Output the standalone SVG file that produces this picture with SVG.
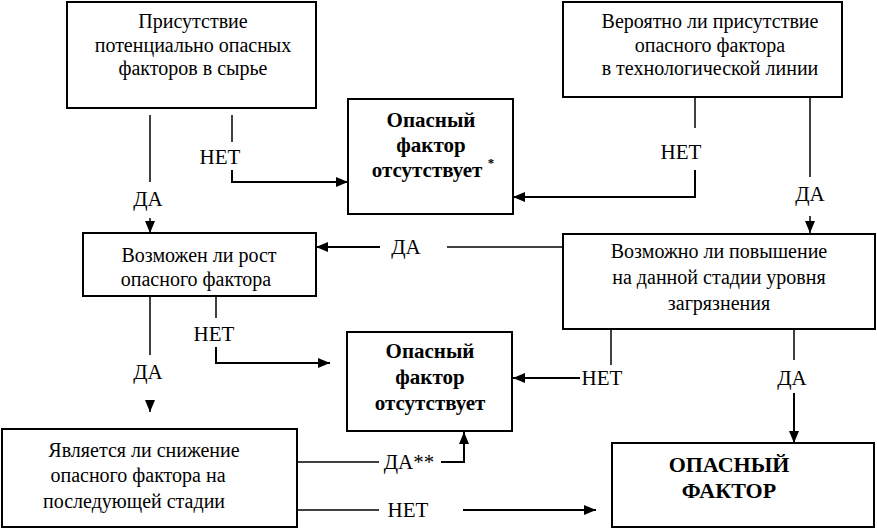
<svg xmlns="http://www.w3.org/2000/svg" width="877" height="530" viewBox="0 0 877 530">
<defs>
<marker id="ah" markerUnits="userSpaceOnUse" markerWidth="12" markerHeight="10" viewBox="0 0 12 10" refX="12" refY="5" orient="auto">
<path d="M0,0 L12,5 L0,10 Z" fill="#000"/>
</marker>
</defs>
<rect width="877" height="530" fill="#fff"/>

<g id="connectors" fill="none" stroke="#000" stroke-width="1.5">
<line x1="150" y1="115" x2="150" y2="182"/>
<line x1="150" y1="218" x2="150" y2="233" marker-end="url(#ah)"/>
<line x1="232" y1="115" x2="232" y2="142"/>
<polyline points="232,170 232,182 348,182" stroke-width="2" marker-end="url(#ah)"/>
<line x1="695" y1="98" x2="695" y2="128"/>
<polyline points="695,170 695,197 513,197" stroke-width="2" marker-end="url(#ah)"/>
<line x1="810" y1="98" x2="810" y2="177"/>
<line x1="810" y1="216" x2="810" y2="233" marker-end="url(#ah)"/>
<line x1="563" y1="247" x2="447" y2="247"/>
<line x1="380" y1="247" x2="316" y2="247" stroke-width="2" marker-end="url(#ah)"/>
<line x1="150" y1="296" x2="150" y2="355"/>
<line x1="150" y1="400" x2="150" y2="412" marker-end="url(#ah)"/>
<line x1="216" y1="296" x2="216" y2="318"/>
<polyline points="216,347 216,363 330,363" stroke-width="2" marker-end="url(#ah)"/>
<line x1="611" y1="329" x2="611" y2="365"/>
<line x1="580" y1="378" x2="513" y2="378" stroke-width="2" marker-end="url(#ah)"/>
<line x1="794" y1="329" x2="794" y2="360"/>
<line x1="794" y1="393" x2="794" y2="443" stroke-width="2" marker-end="url(#ah)"/>
<line x1="297" y1="462" x2="379" y2="462"/>
<polyline points="441,462 464,462 464,432" stroke-width="2" marker-end="url(#ah)"/>
<line x1="297" y1="510" x2="379" y2="510"/>
<line x1="463" y1="510" x2="596" y2="510" stroke-width="2" marker-end="url(#ah)"/>
<text style="font-family:'Liberation Serif',serif;font-size:21px;text-anchor:middle;fill:#000;stroke:none" x="148" y="206">ДА</text>
<text style="font-family:'Liberation Serif',serif;font-size:21px;text-anchor:middle;fill:#000;stroke:none" x="220" y="164">НЕТ</text>
<text style="font-family:'Liberation Serif',serif;font-size:21px;text-anchor:middle;fill:#000;stroke:none" x="681" y="159">НЕТ</text>
<text style="font-family:'Liberation Serif',serif;font-size:21px;text-anchor:middle;fill:#000;stroke:none" x="810" y="201">ДА</text>
<text style="font-family:'Liberation Serif',serif;font-size:21px;text-anchor:middle;fill:#000;stroke:none" x="406" y="254">ДА</text>
<text style="font-family:'Liberation Serif',serif;font-size:21px;text-anchor:middle;fill:#000;stroke:none" x="148" y="379">ДА</text>
<text style="font-family:'Liberation Serif',serif;font-size:21px;text-anchor:middle;fill:#000;stroke:none" x="214" y="341">НЕТ</text>
<text style="font-family:'Liberation Serif',serif;font-size:21px;text-anchor:middle;fill:#000;stroke:none" x="602" y="385">НЕТ</text>
<text style="font-family:'Liberation Serif',serif;font-size:21px;text-anchor:middle;fill:#000;stroke:none" x="792" y="385">ДА</text>
<text style="font-family:'Liberation Serif',serif;font-size:21px;text-anchor:middle;fill:#000;stroke:none" x="409" y="469">ДА**</text>
<text style="font-family:'Liberation Serif',serif;font-size:21px;text-anchor:middle;fill:#000;stroke:none" x="408" y="517">НЕТ</text>
</g>

<g id="node-raw">
<rect x="67" y="2" width="249" height="106" fill="#fff" stroke="#000" stroke-width="2"/>
<text style="font-family:'Liberation Serif',serif;font-size:20px;text-anchor:middle" x="193" y="28">Присутствие</text>
<text style="font-family:'Liberation Serif',serif;font-size:20px;text-anchor:middle" x="193" y="52">потенциально опасных</text>
<text style="font-family:'Liberation Serif',serif;font-size:20px;text-anchor:middle" x="193" y="75">факторов в сырье</text>
</g>

<g id="node-line">
<rect x="563" y="2" width="279" height="95" fill="#fff" stroke="#000" stroke-width="2"/>
<text style="font-family:'Liberation Serif',serif;font-size:20px;text-anchor:middle" x="710" y="28">Вероятно ли присутствие</text>
<text style="font-family:'Liberation Serif',serif;font-size:20px;text-anchor:middle" x="710" y="52">опасного фактора</text>
<text style="font-family:'Liberation Serif',serif;font-size:20px;text-anchor:middle" x="710" y="75">в технологической линии</text>
</g>

<g id="node-absent1">
<rect x="348" y="99" width="165" height="115" fill="#fff" stroke="#000" stroke-width="2"/>
<text style="font-family:'Liberation Serif',serif;font-size:21px;font-weight:bold;text-anchor:middle" x="431" y="127">Опасный</text>
<text style="font-family:'Liberation Serif',serif;font-size:21px;font-weight:bold;text-anchor:middle" x="431" y="152">фактор</text>
<text style="font-family:'Liberation Serif',serif;font-size:21px;font-weight:bold;text-anchor:middle" x="427" y="177">отсутствует</text>
<text style="font-family:'Liberation Serif',serif;font-size:13px;font-weight:bold;text-anchor:middle" x="491" y="167">*</text>
</g>

<g id="node-growth">
<rect x="83" y="233" width="233" height="63" fill="#fff" stroke="#000" stroke-width="2"/>
<text style="font-family:'Liberation Serif',serif;font-size:20px;text-anchor:middle" x="199" y="262">Возможен ли рост</text>
<text style="font-family:'Liberation Serif',serif;font-size:20px;text-anchor:middle" x="196" y="286">опасного фактора</text>
</g>

<g id="node-increase">
<rect x="563" y="234" width="312" height="95" fill="#fff" stroke="#000" stroke-width="2"/>
<text style="font-family:'Liberation Serif',serif;font-size:20px;text-anchor:middle" x="719" y="258">Возможно ли повышение</text>
<text style="font-family:'Liberation Serif',serif;font-size:20px;text-anchor:middle" x="719" y="284">на данной стадии уровня</text>
<text style="font-family:'Liberation Serif',serif;font-size:20px;text-anchor:middle" x="719" y="310">загрязнения</text>
</g>

<g id="node-absent2">
<rect x="347" y="332" width="165" height="99" fill="#fff" stroke="#000" stroke-width="2"/>
<text style="font-family:'Liberation Serif',serif;font-size:21px;font-weight:bold;text-anchor:middle" x="430" y="358">Опасный</text>
<text style="font-family:'Liberation Serif',serif;font-size:21px;font-weight:bold;text-anchor:middle" x="430" y="384">фактор</text>
<text style="font-family:'Liberation Serif',serif;font-size:21px;font-weight:bold;text-anchor:middle" x="430" y="410">отсутствует</text>
</g>

<g id="node-reduce">
<rect x="2" y="429" width="295" height="98" fill="#fff" stroke="#000" stroke-width="2"/>
<text style="font-family:'Liberation Serif',serif;font-size:20px;text-anchor:middle" x="144" y="457">Является ли снижение</text>
<text style="font-family:'Liberation Serif',serif;font-size:20px;text-anchor:middle" x="138" y="482">опасного фактора на</text>
<text style="font-family:'Liberation Serif',serif;font-size:20px;text-anchor:middle" x="134" y="508">последующей стадии</text>
</g>

<g id="node-hazard">
<rect x="612" y="443" width="262" height="84" fill="#fff" stroke="#000" stroke-width="2"/>
<text style="font-family:'Liberation Serif',serif;font-size:22px;font-weight:bold;text-anchor:middle" x="729" y="472">ОПАСНЫЙ</text>
<text style="font-family:'Liberation Serif',serif;font-size:22px;font-weight:bold;text-anchor:middle" x="729" y="498">ФАКТОР</text>
</g>
</svg>
